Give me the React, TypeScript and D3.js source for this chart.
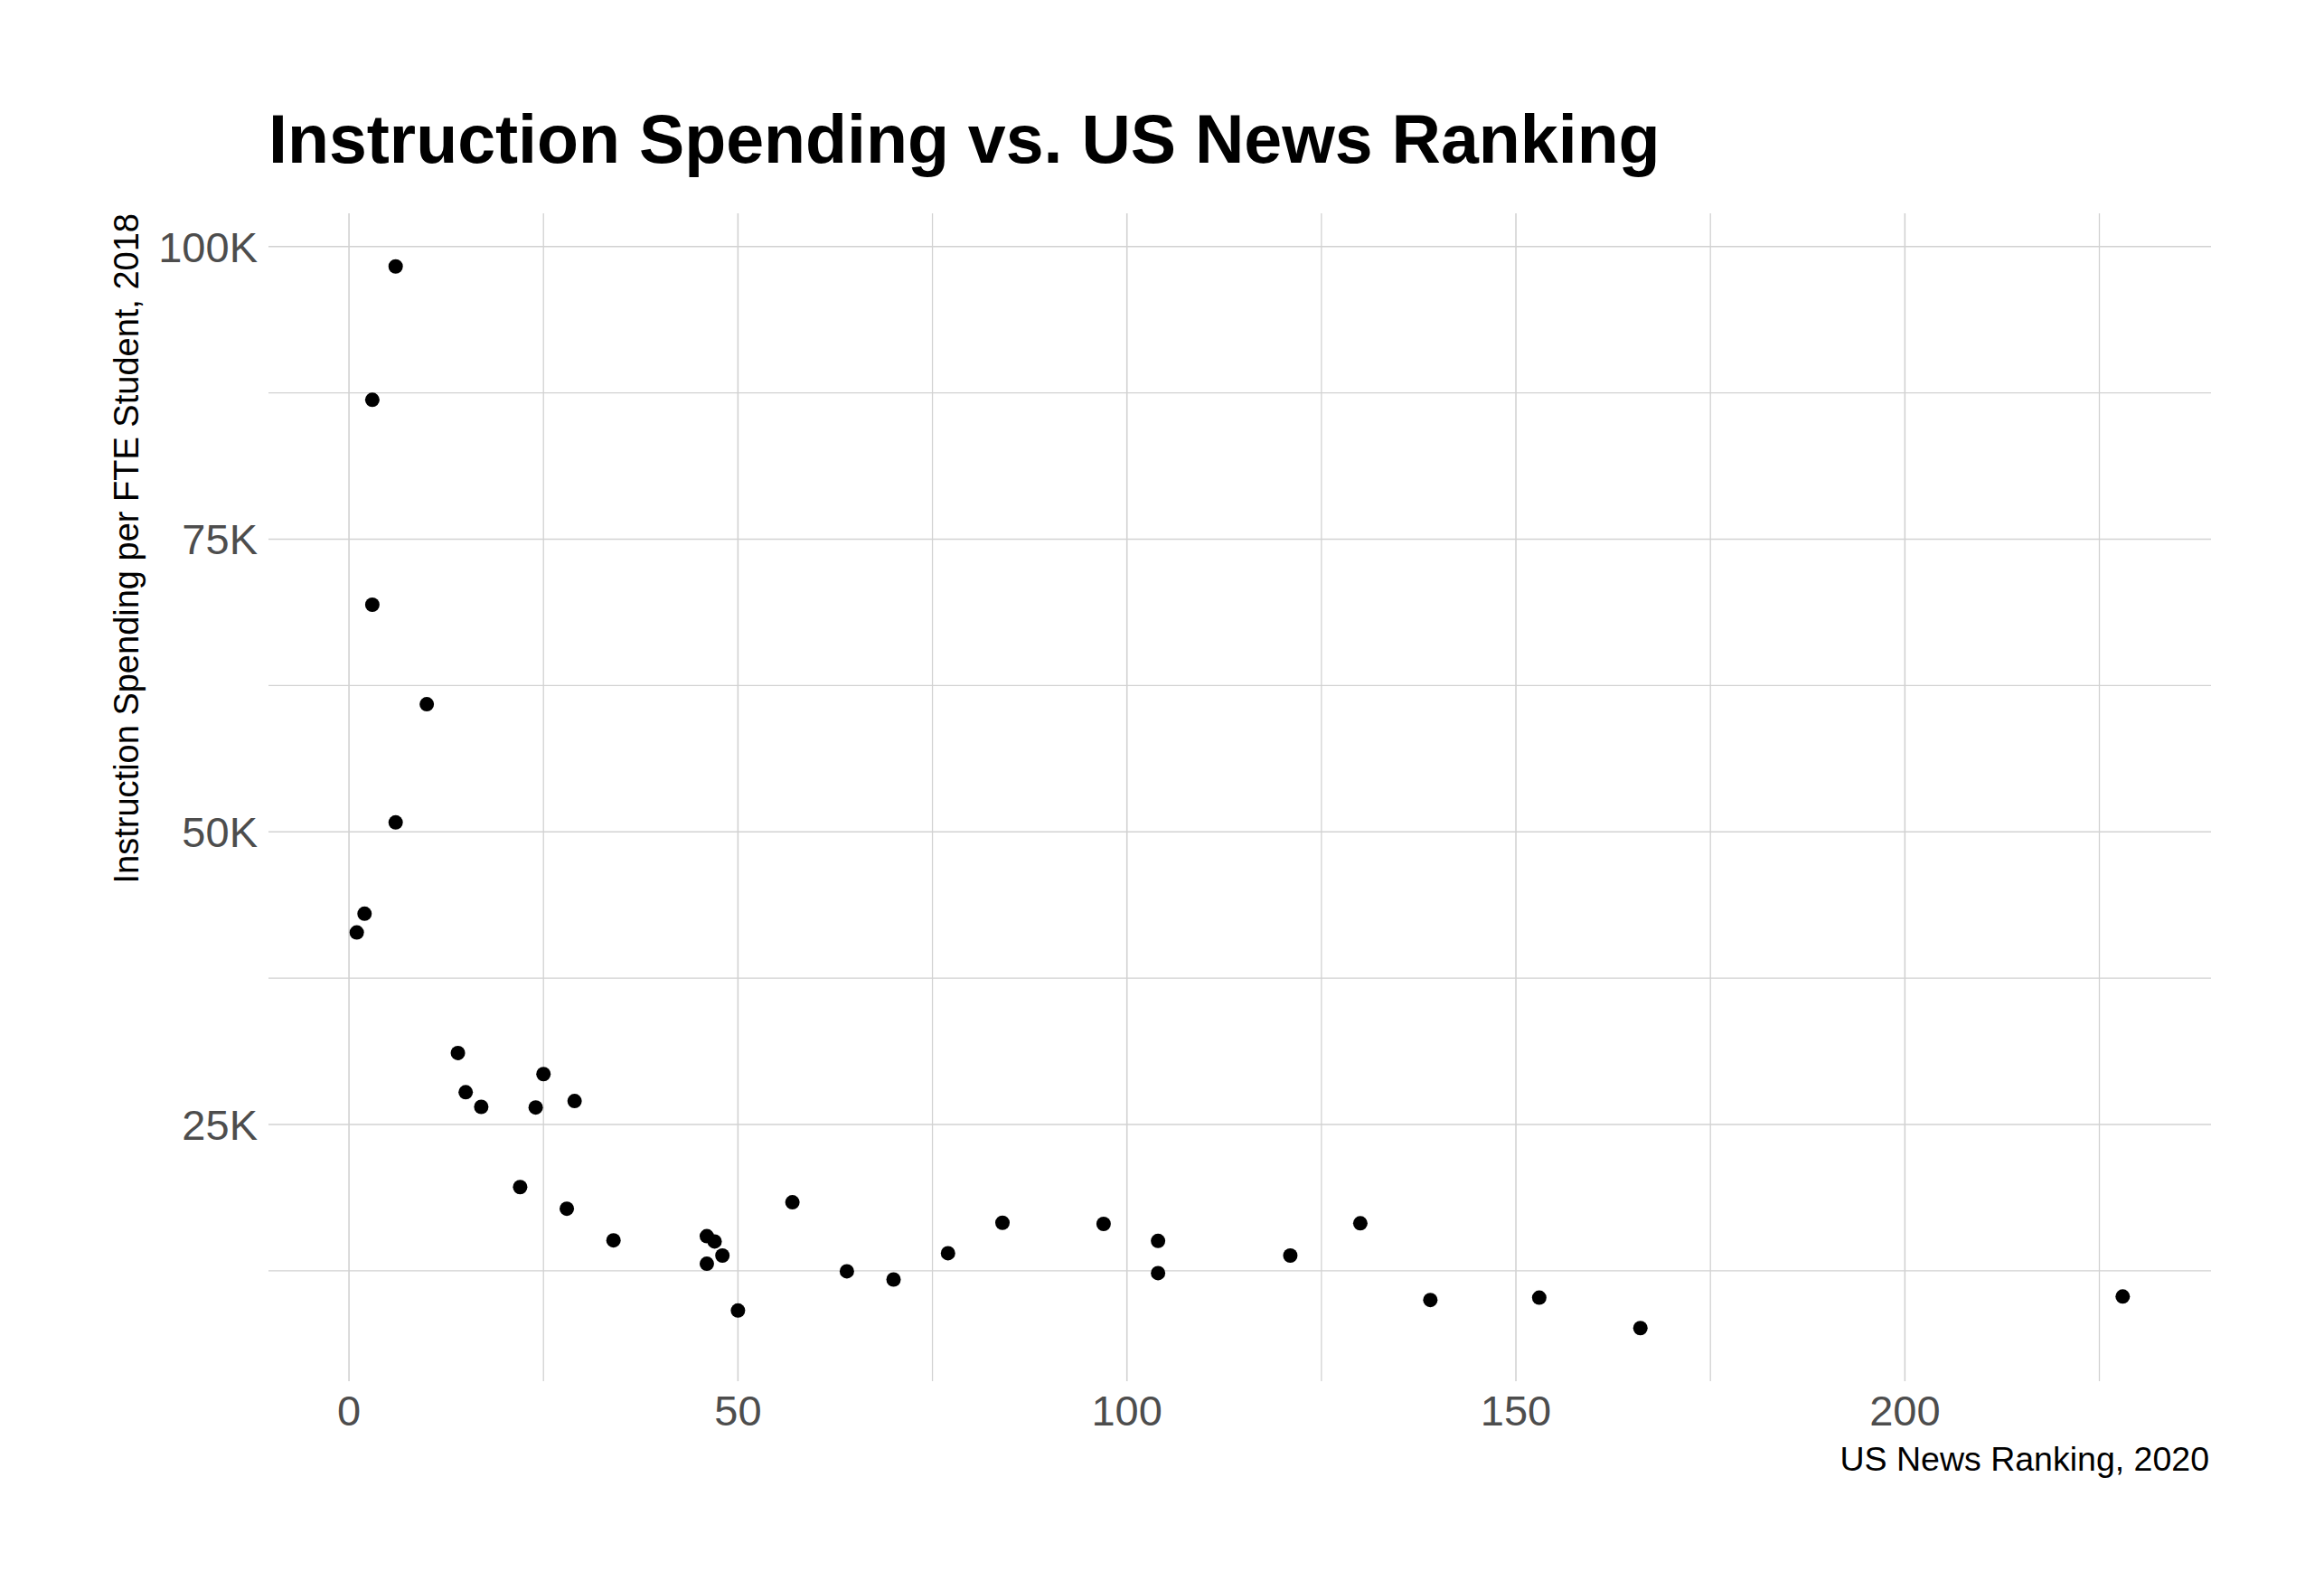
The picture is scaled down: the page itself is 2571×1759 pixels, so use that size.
import React from "react";
import * as d3 from "d3";

// US News Ranking, 2020
const ranking: number[] = [
  6, 3, 3, 10, 6, 2, 1,
  14, 25, 15, 17, 24, 29, 22, 28, 34, 46, 47, 48, 46, 50, 57, 64, 70, 77,
  84, 97, 104, 104, 121, 130, 139, 153, 166, 228,
];
// Instruction spending per FTE student, 2018 (thousands of dollars)
const spendingK: number[] = [
  98.3, 86.9, 69.4, 60.9, 50.8, 43.0, 41.4,
  31.1, 29.3, 27.75, 26.5, 26.45, 27.0, 19.65, 17.8, 15.1, 15.45, 15.0, 13.8, 13.1, 9.1, 18.35, 12.45, 11.75, 14.0,
  16.6, 16.5, 15.05, 12.3, 13.8, 16.55, 10.0, 10.2, 7.6, 10.3,
];
const xMajor: number[] = [0, 50, 100, 150, 200];
const xMinor: number[] = [25, 75, 125, 175, 225];
const yMajor: number[] = [25, 50, 75, 100];
const yMinor: number[] = [12.5, 37.5, 62.5, 87.5];
const yTickLabels: string[] = ["25K", "50K", "75K", "100K"];

const W = 2571;
const H = 1759;
const panel = { left: 297, right: 2446, top: 236, bottom: 1528 };
const FONT = "'Liberation Sans', Arial, Helvetica, sans-serif";

function expand(ext: [number, number], f = 0.05): [number, number] {
  const r = ext[1] - ext[0];
  return [ext[0] - r * f, ext[1] + r * f];
}

export default function App() {
  const x = d3
    .scaleLinear()
    .domain(expand(d3.extent(ranking) as [number, number]))
    .range([panel.left, panel.right]);
  const y = d3
    .scaleLinear()
    .domain(expand(d3.extent(spendingK) as [number, number]))
    .range([panel.bottom, panel.top]);

  const points = ranking.map((r, i) => ({ r, s: spendingK[i] }));
  const grid = "#d2d2d2";

  return (
    <svg
      width={W}
      height={H}
      viewBox={`0 0 ${W} ${H}`}
      style={{ position: "absolute", left: 0, top: 0, background: "#fff" }}
      fontFamily={FONT}
    >
      <rect x={0} y={0} width={W} height={H} fill="#fff" />
      {/* minor gridlines */}
      {xMinor.map((v) => (
        <line key={"xm" + v} x1={x(v)} x2={x(v)} y1={panel.top} y2={panel.bottom} stroke={grid} strokeWidth={1.3} />
      ))}
      {yMinor.map((v) => (
        <line key={"ym" + v} x1={panel.left} x2={panel.right} y1={y(v)} y2={y(v)} stroke={grid} strokeWidth={1.3} />
      ))}
      {/* major gridlines */}
      {xMajor.map((v) => (
        <line key={"xM" + v} x1={x(v)} x2={x(v)} y1={panel.top} y2={panel.bottom} stroke={grid} strokeWidth={1.6} />
      ))}
      {yMajor.map((v) => (
        <line key={"yM" + v} x1={panel.left} x2={panel.right} y1={y(v)} y2={y(v)} stroke={grid} strokeWidth={1.6} />
      ))}
      {/* points */}
      {points.map((p, i) => (
        <circle key={i} cx={x(p.r)} cy={y(p.s)} r={8} fill="#000" />
      ))}
      {/* y tick labels */}
      {yMajor.map((v, i) => (
        <text key={"yl" + v} x={285} y={y(v)} dy="0.36em" textAnchor="end" fontSize={47} fill="#4d4d4d">
          {yTickLabels[i]}
        </text>
      ))}
      {/* x tick labels */}
      {xMajor.map((v) => (
        <text key={"xl" + v} x={x(v)} y={1577} textAnchor="middle" fontSize={47} fill="#4d4d4d">
          {v}
        </text>
      ))}
      {/* axis titles */}
      <text x={2444} y={1627} textAnchor="end" fontSize={37.5} fill="#000">
        US News Ranking, 2020
      </text>
      <text transform={`translate(153, ${panel.top}) rotate(-90)`} textAnchor="end" fontSize={38} fill="#000">
        Instruction Spending per FTE Student, 2018
      </text>
      {/* title */}
      <text x={panel.left} y={180} fontSize={75.3} fontWeight="bold" fill="#000">
        Instruction Spending vs. US News Ranking
      </text>
    </svg>
  );
}
